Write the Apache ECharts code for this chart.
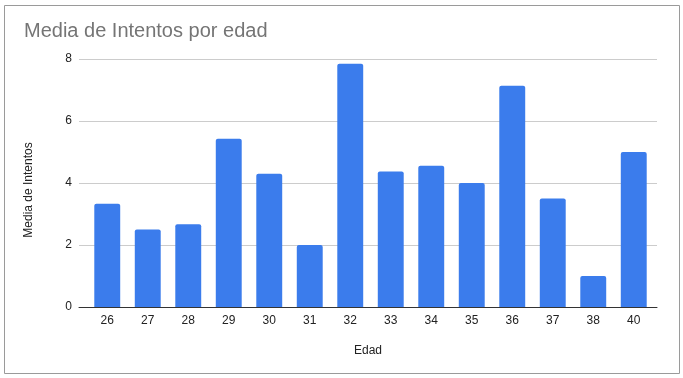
<!DOCTYPE html>
<html>
<head>
<meta charset="utf-8">
<script src="https://cdn.jsdelivr.net/npm/echarts@6/dist/echarts.min.js"></script>
<style>
  html, body { margin: 0; padding: 0; background: #fff; }
  #chart { width: 683px; height: 378px; }
</style>
</head>
<body>
<div id="chart"></div>
<script>
// datos
const edades = ["26", "27", "28", "29", "30", "31", "32", "33", "34", "35", "36", "37", "38", "40"];
const mediaIntentos = [3.33, 2.5, 2.67, 5.43, 4.3, 2, 7.85, 4.37, 4.56, 4, 7.14, 3.5, 1, 5];
const yTicks = [0, 2, 4, 6, 8];

let myChart = echarts.init(document.getElementById("chart"));

const option = {
	animation: false,
	title: {
		text: "Media de Intentos por edad",
		left: 19,
		top: 16,
		textStyle: {
			color: "#757575",
			fontFamily: "Liberation Sans",
			fontSize: 20,
			fontWeight: "normal",
		},
	},
	// marco exterior
	graphic: [
		{
			type: "rect",
			shape: { x: 4.5, y: 5.5, width: 675, height: 368 },
			style: { fill: "none", stroke: "#9a9a9a", lineWidth: 1 },
			silent: true,
		},
	],
	// grid 0: lineas de fondo y eje; grid 1: barras
	grid: [
		{ left: 79, right: 26, top: 59, bottom: 71 },
		{ left: 87, right: 29, top: 59, bottom: 71 },
	],
	xAxis: [
		{
			type: "category",
			gridIndex: 0,
			data: edades,
			axisLine: { lineStyle: { color: "#333", width: 1 } },
			axisTick: { show: false },
			axisLabel: { show: false },
			name: "Edad",
			nameLocation: "middle",
			nameGap: 38,
			nameTextStyle: { color: "#222", fontFamily: "Liberation Sans", fontSize: 12 },
		},
		{
			type: "category",
			gridIndex: 1,
			data: edades,
			axisLine: { show: false },
			axisTick: { show: false },
			axisLabel: {
				color: "#222",
				fontFamily: "Liberation Sans",
				fontSize: 12,
				margin: 8,
			},
		},
	],
	yAxis: [
		{
			type: "value",
			gridIndex: 0,
			min: yTicks[0],
			max: yTicks[yTicks.length - 1],
			interval: 2,
			axisLine: { show: false },
			axisTick: { show: false },
			axisLabel: {
				color: "#222",
				fontFamily: "Liberation Sans",
				fontSize: 12,
				margin: 7,
			},
			splitLine: { lineStyle: { color: "#cccccc", width: 1 } },
			name: "Media de Intentos",
			nameLocation: "middle",
			nameGap: 44,
			nameRotate: 90,
			nameTextStyle: {
				color: "#222",
				fontFamily: "Liberation Sans",
				fontSize: 12,
				padding: [0, 14, 0, 0],
			},
		},
		{
			type: "value",
			gridIndex: 1,
			min: yTicks[0],
			max: yTicks[yTicks.length - 1],
			interval: 2,
			show: false,
			splitLine: { show: false },
		},
	],
	series: [
		{
			name: "Media de Intentos",
			type: "bar",
			xAxisIndex: 1,
			yAxisIndex: 1,
			barWidth: "64%",
			itemStyle: {
				color: "#3b7cec",
				borderRadius: [2, 2, 0, 0],
			},
			data: mediaIntentos,
		},
	],
};

myChart.setOption(option);
</script>
</body>
</html>
